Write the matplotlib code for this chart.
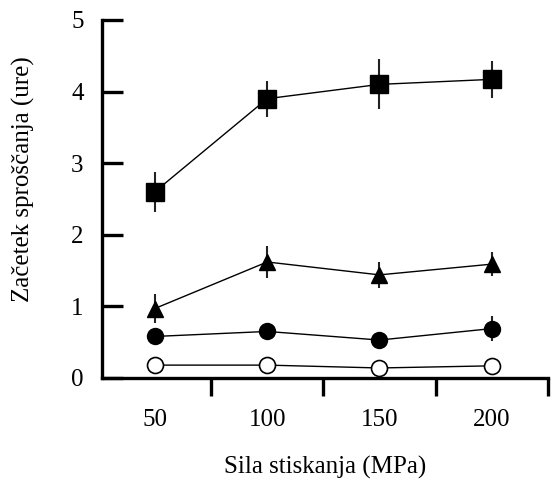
"""Onset of release vs. compression force."""

import matplotlib.pyplot as plt
from matplotlib.ticker import FixedLocator

plt.rcParams['font.family'] = ['Liberation Serif', 'DejaVu Serif']

# compression force (MPa)
force = [50, 100, 150, 200]
tick_labels = ['50', '100', '150', '200']

# onset of release (hours) for each formulation, with error bar half-widths
square = [2.6, 3.9, 4.1, 4.17]
square_err = [0.28, 0.25, 0.35, 0.26]
triangle = [0.97, 1.62, 1.44, 1.59]
triangle_err = [0.2, 0.23, 0.18, 0.17]
dot = [0.58, 0.65, 0.53, 0.69]
dot_err = [0.0, 0.0, 0.0, 0.18]
ring = [0.18, 0.18, 0.14, 0.17]

fig = plt.figure(figsize=(5.53, 4.8), dpi=100)
ax = fig.add_axes([0.184, 0.2125, 0.807, 0.746])

line_kw = dict(color='black', linewidth=1.0, elinewidth=1.5, capsize=0,
               ecolor='#222222')
ax.errorbar(force, square, yerr=square_err, marker='s', markersize=13,
            markerfacecolor='black', markeredgecolor='black', **line_kw)
ax.errorbar(force, triangle, yerr=triangle_err, marker='^', markersize=12,
            markerfacecolor='black', markeredgecolor='black', **line_kw)
ax.errorbar(force, dot, yerr=dot_err, marker='o', markersize=11.5,
            markerfacecolor='black', markeredgecolor='black', **line_kw)
ax.plot(force, ring, marker='o', markersize=11.5, color='black', linewidth=1.0,
        markerfacecolor='white', markeredgecolor='black', markeredgewidth=1.2)

ax.set_xlim(26.4, 225)
ax.set_ylim(0, 5)

for side in ('top', 'right'):
    ax.spines[side].set_visible(False)
for side in ('left', 'bottom'):
    ax.spines[side].set_linewidth(2.4)

ax.set_yticks([0, 1, 2, 3, 4, 5])
ax.tick_params(axis='y', direction='in', length=15, width=2.4, pad=13,
               labelsize=18)

# category labels sit between the separating tick marks
ax.set_xticks(force)
ax.set_xticklabels(tick_labels)
ax.xaxis.set_minor_locator(FixedLocator([75, 125, 175, 225]))
ax.tick_params(axis='x', which='major', length=0, pad=22, labelsize=18)
ax.tick_params(axis='x', which='minor', direction='out', length=13, width=2.4)

ax.set_xlabel('Sila stiskanja (MPa)', fontsize=18, labelpad=18)
ax.set_ylabel('Začetek sproščanja (ure)', fontsize=18)
ax.yaxis.set_label_coords(-0.15, 0.555)

fig.savefig('out.png', dpi=100)
